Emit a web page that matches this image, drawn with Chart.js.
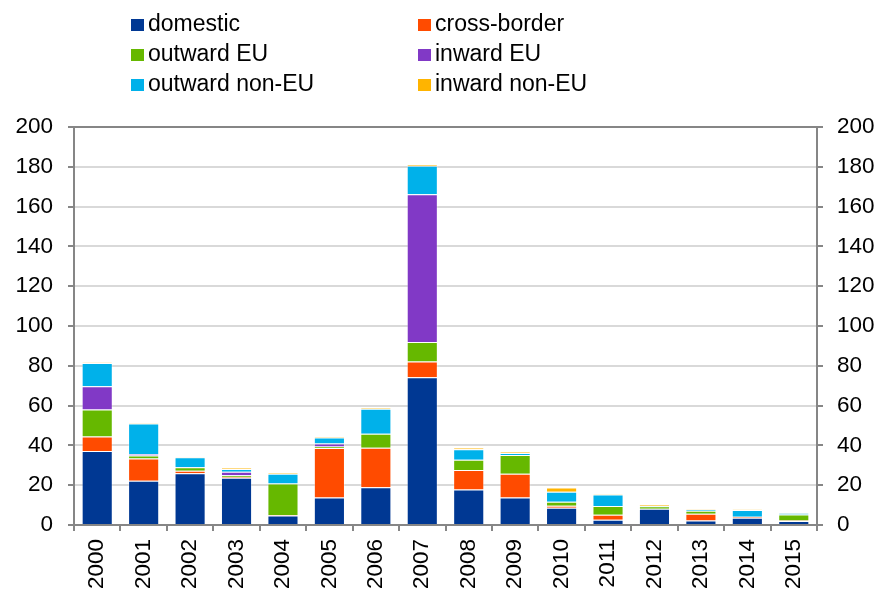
<!DOCTYPE html>
<html>
<head>
<meta charset="utf-8">
<script src="https://cdn.jsdelivr.net/npm/chart.js@4"></script>
<style>
  html, body { margin: 0; padding: 0; background: #fff; }
  #wrap { position: relative; width: 877px; height: 590px; }
  #legend { position: absolute; left: 0; top: 0; width: 877px; height: 100px;
            font-family: Arial, "Liberation Sans", sans-serif; font-size: 23px; color: #000; }
  .item { position: absolute; white-space: nowrap; line-height: 26px; }
  .sw { display: inline-block; width: 13px; height: 12px; margin-right: 4px; vertical-align: 0px; }
</style>
</head>
<body>
<div id="wrap">
  <canvas id="chart" width="877" height="590"></canvas>
  <div id="legend"></div>
</div>
<script>
  const years = ['2000','2001','2002','2003','2004','2005','2006','2007','2008','2009','2010','2011','2012','2013','2014','2015'];

  const domestic     = [37.2, 22.2, 26.0, 23.8, 4.8, 13.8, 19.0, 74.2, 17.8, 13.8, 8.7, 2.7, 8.2, 2.2, 3.7, 2.0];
  const crossBorder  = [7.3, 11.2, 1.3, 0.3, 0.2, 24.9, 19.8, 8.0, 9.9, 11.9, 1.0, 2.5, 0.0, 3.5, 0.5, 0.3];
  const outwardEU    = [13.5, 1.5, 1.7, 0.9, 15.8, 0.8, 7.0, 9.8, 5.1, 9.5, 2.0, 4.3, 1.2, 1.5, 0.0, 3.0];
  const inwardEU     = [11.7, 0.8, 0.2, 1.7, 0.0, 1.5, 0.0, 74.2, 0.0, 0.0, 0.0, 0.0, 0.0, 0.0, 0.0, 0.0];
  const outwardNonEU = [11.7, 15.3, 4.8, 1.5, 5.0, 3.0, 12.6, 14.3, 5.3, 1.0, 5.0, 5.8, 0.3, 0.6, 3.3, 0.6];
  const inwardNonEU  = [0.3, 0.3, 0.3, 0.5, 0.3, 0.5, 0.5, 0.7, 0.7, 0.5, 2.1, 0.3, 0.7, 0.3, 0.3, 0.3];

  const series = [
    { label: 'domestic',        data: domestic,     color: '#003893' },
    { label: 'cross-border',    data: crossBorder,  color: '#ff4b00' },
    { label: 'outward EU',      data: outwardEU,    color: '#66b800' },
    { label: 'inward EU',       data: inwardEU,     color: '#8139c6' },
    { label: 'outward non-EU',  data: outwardNonEU, color: '#00b1ea' },
    { label: 'inward non-EU',   data: inwardNonEU,  color: '#ffb400' }
  ];

  // legend: 3 rows x 2 columns
  const legend = document.getElementById('legend');
  series.forEach(function(s, i) {
    const el = document.createElement('div');
    el.className = 'item';
    el.style.left = (i % 2 === 0 ? 131 : 418) + 'px';
    el.style.top = (10 + Math.floor(i / 2) * 30) + 'px';
    el.innerHTML = '<span class="sw" style="background:' + s.color + '"></span>' + s.label;
    legend.appendChild(el);
  });

  const axisColor = '#868686';
  const font = { family: 'Arial, "Liberation Sans", sans-serif', size: 22.5 };

  new Chart(document.getElementById('chart'), {
    type: 'bar',
    data: {
      labels: years,
      datasets: series.map(function(s) {
        return {
          label: s.label,
          data: s.data,
          backgroundColor: s.color,
          borderColor: 'rgba(255,255,255,0.3)',
          borderWidth: 1,
          categoryPercentage: 1,
          barPercentage: 0.67
        };
      })
    },
    options: {
      responsive: false,
      animation: false,
      layout: { padding: { top: 127, bottom: 0, left: 0, right: 0 } },
      plugins: { legend: { display: false }, tooltip: { enabled: false } },
      scales: {
        x: {
          stacked: true,
          grid: { drawOnChartArea: false, offset: true, tickLength: 6, color: axisColor, lineWidth: 2 },
          border: { color: axisColor, width: 2 },
          ticks: { color: '#000', font: font, minRotation: 90, maxRotation: 90, padding: 8 },
          afterFit: function(scale) { scale.height = 65; }
        },
        y: {
          stacked: true,
          min: 0, max: 200,
          position: 'left',
          grid: {
            color: function(ctx) { return ctx.tick && ctx.tick.value === 200 ? axisColor : '#d9d9d9'; },
            lineWidth: 2,
            tickColor: axisColor,
            tickLength: 6
          },
          border: { color: axisColor, width: 2 },
          ticks: { stepSize: 20, color: '#000', font: font, padding: 15 },
          afterFit: function(scale) { scale.width = 74; }
        },
        y2: {
          min: 0, max: 200,
          position: 'right',
          grid: { drawOnChartArea: false, color: axisColor, lineWidth: 2, tickLength: 6 },
          border: { color: axisColor, width: 2 },
          ticks: { stepSize: 20, color: '#000', font: font, padding: 14 },
          afterFit: function(scale) { scale.width = 60; }
        }
      }
    }
  });
</script>
</body>
</html>
